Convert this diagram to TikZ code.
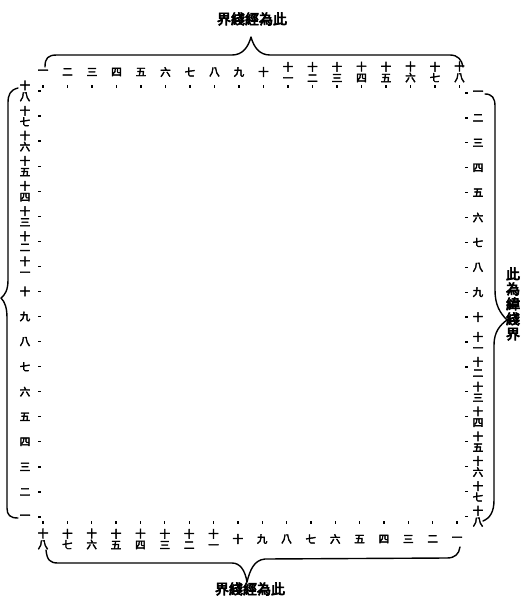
\documentclass[tikz,border=0pt]{standalone}
\usepackage{fontspec}
\newfontfamily\cjk{Noto Sans CJK TC}[FakeBold=4]
\newfontfamily\cjkl{Noto Sans CJK TC}[FakeBold=5]
\tikzset{
  num/.style={inner sep=0pt, align=center, font=\cjk\fontsize{10.5}{11}\selectfont},
  lab/.style={inner sep=0pt, align=center, font=\cjkl\fontsize{14}{15}\selectfont},
  brace/.style={line width=1.4pt, line cap=round, line join=round},
  tick/.style={line width=1.3pt}
}
\begin{document}
\begin{tikzpicture}[x=1pt,y=-1pt]
\useasboundingbox (0,0) rectangle (522,597);
\def\numlist{1/一,2/二,3/三,4/四,5/五,6/六,7/七,8/八,9/九,10/十,11/十\\一,12/十\\二,13/十\\三,14/十\\四,15/十\\五,16/十\\六,17/十\\七,18/十\\八}
% top row
\foreach \i/\t in \numlist {
  \node[num] (t\i) at ({43+(\i-1)*24.5},72) {\t};
  \draw[tick] ({43+(\i-1)*24.5},85) -- ++(0,3);
}
% right column
\foreach \i/\t in \numlist {
  \node[num] (r\i) at (478,{93+(\i-1)*24.9}) {\t};
  \draw[tick] (465,{93+(\i-1)*24.9}) -- ++(3,0);
}
% bottom row
\foreach \i/\t in \numlist {
  \node[num] (b\i) at ({457-(\i-1)*24.35},539) {\t};
  \draw[tick] ({457-(\i-1)*24.35},521) -- ++(0,3);
}
% left column
\foreach \i/\t in \numlist {
  \node[num] (l\i) at (25,{517-(\i-1)*25.06}) {\t};
  \draw[tick] (38,{517-(\i-1)*25.06}) -- ++(3,0);
}
% braces
\draw[brace] (45,67) .. controls (45,58) and (48,55) .. (57,55) -- (232,55)
  .. controls (242,55) and (248,48) .. (251,37)
  .. controls (254,48) and (260,55) .. (270,55) -- (450,55)
  .. controls (458,55) and (462,60) .. (463,67);
\draw[brace] (46,550) .. controls (47,560) and (50,563) .. (58,563) -- (232,563)
  .. controls (240,563) and (245,570) .. (247,582)
  .. controls (250,570) and (254,560) .. (265,559) -- (447,558)
  .. controls (455,558) and (459,554) .. (460,547);
\draw[brace] (18,88) .. controls (10,90) and (8,95) .. (8,103) -- (8,280)
  .. controls (8,290) and (5,295) .. (1,298)
  .. controls (5,302) and (7,308) .. (7,318) -- (7,508)
  .. controls (7,515) and (10,518) .. (18,518);
\draw[brace] (485,94) .. controls (492,94) and (495,98) .. (495,106) -- (495,290)
  .. controls (495,305) and (500,313) .. (507,320)
  .. controls (500,325) and (494,332) .. (494,345) -- (494,500)
  .. controls (494,512) and (490,518) .. (483,521);
% labels
\node[lab] (toplab) at (252,19) {界綫經為此};
\node[lab] (botlab) at (250,589) {界綫經為此};
\node[lab] (rightlab) at (513,304) {此\\為\\緯\\綫\\界};
\end{tikzpicture}
\end{document}
